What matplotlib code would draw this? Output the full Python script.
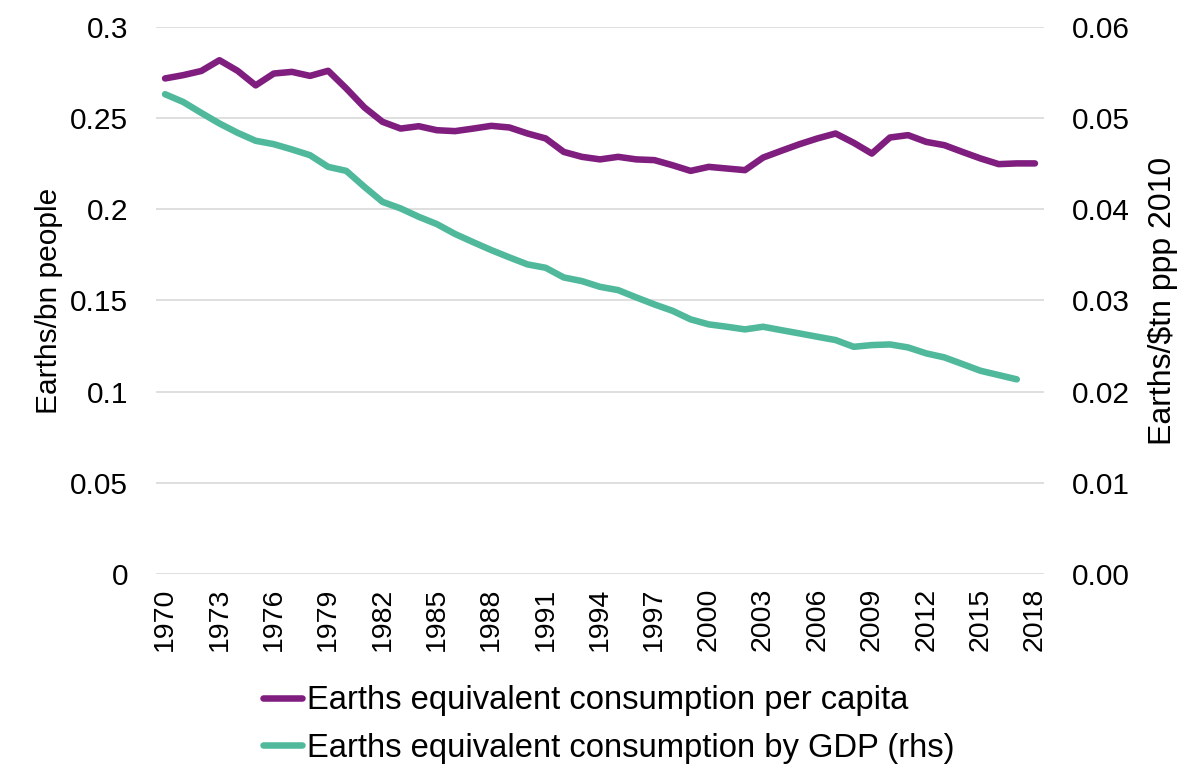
import numpy as np
import matplotlib.pyplot as plt
from matplotlib.ticker import FixedLocator, FuncFormatter

plt.rcParams['font.family'] = ['Liberation Sans', 'DejaVu Sans']

years = list(range(1970, 2019))

per_capita = [
    0.2718, 0.2736, 0.2759, 0.2818, 0.2760, 0.2680, 0.2745, 0.2754, 0.2732, 0.2760,
    0.2663, 0.2559, 0.2480, 0.2443, 0.2456, 0.2434, 0.2429, 0.2443, 0.2458, 0.2449,
    0.2416, 0.2389, 0.2315, 0.2288, 0.2274, 0.2288, 0.2274, 0.2270, 0.2242, 0.2211,
    0.2233, 0.2224, 0.2215, 0.2284, 0.2321, 0.2357, 0.2389, 0.2416, 0.2365, 0.2306,
    0.2394, 0.2407, 0.2370, 0.2352, 0.2315, 0.2279, 0.2248, 0.2252, 0.2252,
]

by_gdp = [
    0.05263, 0.05178, 0.05058, 0.04942, 0.04840, 0.04752, 0.04715, 0.04657, 0.04594, 0.04466,
    0.04422, 0.04247, 0.04082, 0.04010, 0.03918, 0.03838, 0.03730, 0.03640, 0.03553, 0.03473,
    0.03396, 0.03359, 0.03253, 0.03213, 0.03150, 0.03114, 0.03034, 0.02957, 0.02887, 0.02793,
    0.02738, 0.02712, 0.02683, 0.02712, 0.02675, 0.02639, 0.02602, 0.02566, 0.02492, 0.02511,
    0.02518, 0.02485, 0.02420, 0.02376, 0.02303, 0.02229, 0.02182, 0.02135,
]

tick_years = list(range(1970, 2019, 3))
left_ticks = [0, 0.05, 0.1, 0.15, 0.2, 0.25, 0.3]
right_ticks = [0, 0.01, 0.02, 0.03, 0.04, 0.05, 0.06]

purple = "#7f1e7e"
teal = "#50b99c"

fig = plt.figure(figsize=(12, 7.79), dpi=100)
ax = fig.add_axes([0.13, 0.2632, 0.74, 0.7021])
ax2 = ax.twinx()

l1, = ax.plot(years, per_capita, color=purple, lw=4.7, solid_capstyle='round', zorder=3)
l2, = ax2.plot(years[:len(by_gdp)], by_gdp, color=teal, lw=4.7, solid_capstyle='round', zorder=3)

ax.set_xlim(1969.5, 2018.5)
ax.set_ylim(0, 0.3)
ax2.set_ylim(0, 0.06)

ax.yaxis.set_major_locator(FixedLocator(left_ticks))
ax.yaxis.set_major_formatter(FuncFormatter(lambda v, p: "0" if v == 0 else f"{v:g}"))
ax2.yaxis.set_major_locator(FixedLocator(right_ticks))
ax2.yaxis.set_major_formatter(FuncFormatter(lambda v, p: f"{v:.2f}"))
ax.set_xticks(tick_years)
ax.set_xticklabels([str(y) for y in tick_years], rotation=90)

ax.grid(axis='y', color='#d9d9d9', lw=1.2)
ax.set_axisbelow(True)
for a in (ax, ax2):
    for s in a.spines.values():
        s.set_visible(False)
    a.tick_params(length=0, labelsize=21.5, colors='black')
ax.tick_params(axis='x', labelsize=20.5, pad=10)
ax.tick_params(axis='y', pad=20)
ax2.tick_params(axis='y', pad=20)

ax.set_ylabel("Earths/bn people", fontsize=21.5, labelpad=5)
ax2.set_ylabel("Earths/\\$tn ppp 2010", fontsize=23, labelpad=13)

fig.legend([l1, l2],
           ["Earths equivalent consumption per capita",
            "Earths equivalent consumption by GDP (rhs)"],
           loc='upper center', bbox_to_anchor=(0.507, 0.137),
           frameon=False, fontsize=23.6, handlelength=1.2, handletextpad=0.15,
           labelspacing=0.5, borderaxespad=0)

fig.savefig("out.png", dpi=100)
